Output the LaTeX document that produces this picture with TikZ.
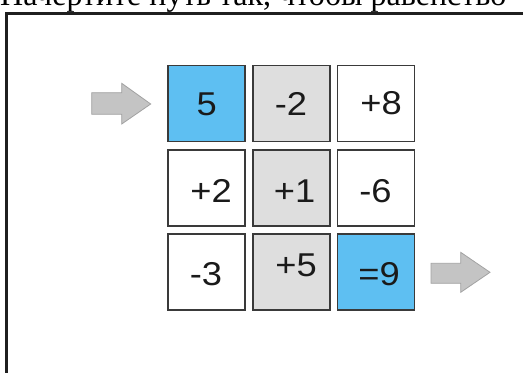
\documentclass[tikz,border=0pt]{standalone}
\usepackage{fontspec}
\setmainfont{Liberation Sans}
\newfontfamily\headserif{Liberation Serif}
\newfontfamily\cellfont[FakeStretch=1.1]{Liberation Sans}
\definecolor{cellblue}{HTML}{5EBFF2}
\definecolor{cellgray}{HTML}{DEDEDE}
\definecolor{cellline}{HTML}{3A3A3A}
\definecolor{numtext}{HTML}{1A1A1A}
\definecolor{arrowfill}{HTML}{C4C4C4}
\definecolor{arrowline}{HTML}{A2A2A2}
\definecolor{framecol}{HTML}{1F1F1F}
\begin{document}
\begin{tikzpicture}[x=1bp,y=-1bp,
  cell/.style={draw=cellline, line width=1.6bp, minimum width=77bp,
    minimum height=76bp, inner sep=0pt, anchor=center},
  num/.style={inner sep=0pt, anchor=center, text=numtext,
    font=\cellfont\fontsize{33bp}{33bp}\selectfont},
  blockarrow/.style={fill=arrowfill, draw=arrowline, line width=0.8bp}]
\useasboundingbox (0,0) rectangle (523,372);
\clip (0,0) rectangle (523,372);

% task line, only its lower edge falls inside the page
\node[anchor=base west, inner sep=0pt,
  font=\headserif\fontsize{32bp}{32bp}\selectfont] (task) at (0,5)
  {Начертите путь так, чтобы равенство};

% frame around the exercise
\draw[line width=3bp, draw=framecol] (6,380) -- (6,13.5) -- (530,13.5);

% grid cells
\node[cell, fill=cellblue] (c11) at (206.5,103.5) {};
\node[cell, fill=cellgray] (c12) at (291.5,103.5) {};
\node[cell, fill=white]    (c13) at (376,103.5) {};
\node[cell, fill=white]    (c21) at (206.5,188) {};
\node[cell, fill=cellgray] (c22) at (291.5,188) {};
\node[cell, fill=white]    (c23) at (376,188) {};
\node[cell, fill=white]    (c31) at (206.5,272) {};
\node[cell, fill=cellgray] (c32) at (291.5,272) {};
\node[cell, fill=cellblue] (c33) at (376,272) {};

% numbers in the cells
\node[num] (n11) at (206.7,104) {5};
\node[num] (n12) at (291,104) {-2};
\node[num] (n13) at (381,103.5) {+8};
\node[num] (n21) at (211,191) {+2};
\node[num] (n22) at (294.5,191) {+1};
\node[num] (n23) at (375.5,191) {-6};
\node[num] (n31) at (206,274.5) {-3};
\node[num] (n32) at (296,265.5) {+5};
\node[num] (n33) at (379,274) {=9};

% entry and exit arrows
\draw[blockarrow] (91.7,92.7) -- (121.7,92.7) -- (121.7,83.3) -- (150.7,104)
  -- (121.7,124) -- (121.7,114.3) -- (91.7,114.3) -- cycle;
\draw[blockarrow] (431,263.3) -- (460.7,263.3) -- (460.7,252.3) -- (490,272.3)
  -- (460.7,292.3) -- (460.7,283.3) -- (431,283.3) -- cycle;
\end{tikzpicture}
\end{document}
